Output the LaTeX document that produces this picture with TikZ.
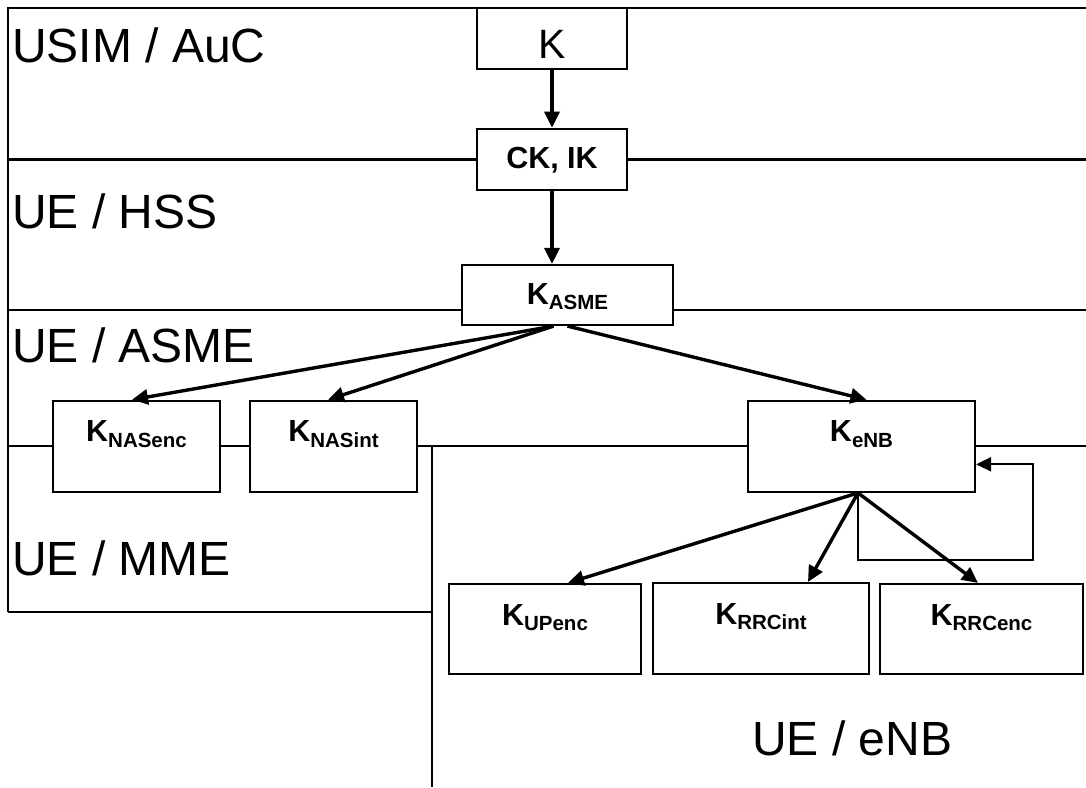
\documentclass[tikz,border=0pt]{standalone}
\usepackage{fontspec}
\setmainfont{Liberation Sans}
\usetikzlibrary{arrows.meta}
\newcommand{\ksub}[1]{K\raisebox{-5.5pt}{\fontsize{20.5}{24}\selectfont #1}}
\begin{document}
\begin{tikzpicture}[x=1pt,y=-1pt,
  box/.style={draw,line width=2.2pt,fill=white,rectangle,inner sep=0pt},
  divider/.style={line width=2.6pt},
  arr/.style={line width=3.4pt,-{Triangle[length=16pt,width=15pt]}},
  looparr/.style={line width=2.2pt,-{Triangle[length=15pt,width=14pt]}},
  region/.style={anchor=base west,inner sep=0pt,font=\fontsize{48}{50}\selectfont},
  keylbl/.style={anchor=base,inner sep=0pt,font=\bfseries\fontsize{30.5}{34}\selectfont},
]
\useasboundingbox (0,0) rectangle (1086,787);
% dividers
\draw[divider] (8,612) -- (8,8) -- (1086,8);
\draw[divider] (8,159.3) -- (1086,159.3);
\draw[divider] (8,310) -- (1086,310);
\draw[divider] (8,446) -- (1086,446);
\draw[divider] (8,612) -- (432,612);
\draw[divider] (432,446) -- (432,787);
% region labels
\node[region] (rusim) at (12,62.3) {USIM / AuC};
\node[region] (rhss) at (12,228) {UE / HSS};
\node[region] (rasme) at (12,362) {UE / ASME};
\node[region] (rmme) at (12,575) {UE / MME};
\node[region] (renb) at (752,755) {UE / eNB};
% boxes
\node[box,minimum width=150pt,minimum height=61pt] (k) at (552,38.5) {};
\node[box,minimum width=150pt,minimum height=61pt] (ckik) at (552,159.3) {};
\node[box,minimum width=211pt,minimum height=60pt] (kasme) at (567.5,295) {};
\node[box,minimum width=167pt,minimum height=91pt] (knasenc) at (136.5,446.3) {};
\node[box,minimum width=167pt,minimum height=91pt] (knasint) at (333.5,446.3) {};
\node[box,minimum width=227pt,minimum height=91pt] (kenb) at (861.5,446.3) {};
\node[box,minimum width=192pt,minimum height=90pt] (kupenc) at (545,629) {};
\node[box,minimum width=216pt,minimum height=91pt] (krrcint) at (761,628.5) {};
\node[box,minimum width=203pt,minimum height=90pt] (krrcenc) at (981.5,629) {};
% box labels
\node[anchor=base,inner sep=0pt,font=\fontsize{41}{44}\selectfont] (lk) at (552,58.3) {K};
\node[keylbl] (lckik) at (552,168.3) {CK, IK};
\node[keylbl] (lkasme) at (567.5,304.3) {\ksub{ASME}};
\node[keylbl] (lknasenc) at (136.5,441.7) {\ksub{NASenc}};
\node[keylbl] (lknasint) at (333.5,441.7) {\ksub{NASint}};
\node[keylbl] (lkenb) at (861.5,441.7) {\ksub{eNB}};
\node[keylbl] (lkupenc) at (545,625) {\ksub{UPenc}};
\node[keylbl] (lkrrcint) at (761,624) {\ksub{RRCint}};
\node[keylbl] (lkrrcenc) at (981.5,625) {\ksub{RRCenc}};
% arrows
\draw[arr] (k.south) -- (ckik.north);
\draw[arr] (ckik.south) -- (ckik.south |- kasme.north);
\draw[arr] ([xshift=-14pt]kasme.south) -- ([xshift=-4.5pt]knasenc.north);
\draw[arr] ([xshift=-14pt]kasme.south) -- ([xshift=-5.5pt]knasint.north);
\draw[arr] (kasme.south) -- ([xshift=5pt]kenb.north);
\draw[arr] ([xshift=-3.5pt]kenb.south) -- ([xshift=23pt]kupenc.north);
\draw[arr] ([xshift=-3.5pt]kenb.south) -- ([xshift=47pt]krrcint.north);
\draw[arr] ([xshift=-3.5pt]kenb.south) -- ([xshift=-3.5pt]krrcenc.north);
\coordinate (loopc) at (1033,560);
\draw[looparr] ([xshift=-3.5pt]kenb.south) |- (loopc) |- ([yshift=-18pt]kenb.east);
\end{tikzpicture}
\end{document}
